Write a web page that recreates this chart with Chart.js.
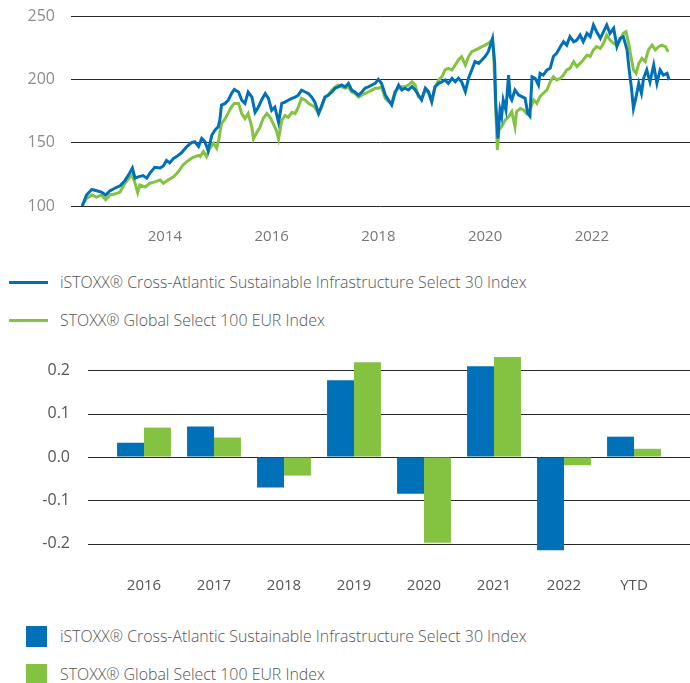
<!DOCTYPE html>
<html>
<head>
<meta charset="utf-8">
<script src="https://cdn.jsdelivr.net/npm/chart.js@4"></script>
<style>
  body { margin: 0; width: 690px; height: 683px; background: #fff; position: relative; overflow: hidden; font-family: "Open Sans", sans-serif; }
  #lineWrap { position: absolute; left: 0; top: 0; width: 690px; height: 255px; }
  #barWrap { position: absolute; left: 0; top: 340px; width: 690px; height: 265px; }
  canvas { display: block; }
  .item { position: absolute; left: 0; height: 24px; display: flex; align-items: center; font-size: 15.9px; font-weight: 300; color: #555; white-space: nowrap; }
  .line { display: inline-block; width: 39px; height: 3px; margin-left: 9px; margin-right: 12px; }
  .box { display: inline-block; width: 21px; height: 21px; margin-left: 26px; margin-right: 13px; }
</style>
</head>
<body>
<div id="lineWrap"><canvas id="lineChart" width="690" height="255"></canvas></div>
<div class="item" style="top:270px"><span class="line" style="background:#0070b9"></span><span id="lname1"></span></div>
<div class="item" style="top:308px"><span class="line" style="background:#84c341"></span><span id="lname2"></span></div>
<div id="barWrap"><canvas id="barChart" width="690" height="265"></canvas></div>
<div class="item" style="top:624px"><span class="box" style="background:#0070b9"></span><span id="bname1"></span></div>
<div class="item" style="top:662px"><span class="box" style="background:#84c341"></span><span id="bname2"></span></div>
<script>
const seriesNames = ['iSTOXX® Cross-Atlantic Sustainable Infrastructure Select 30 Index', 'STOXX® Global Select 100 EUR Index'];

// line chart: index levels
const lineXTicks = [2014, 2016, 2018, 2020, 2022];
const lineYTicks = [100, 150, 200, 250];

const blueYears = [
  2012.45, 2012.53, 2012.63, 2012.72, 2012.81, 2012.89, 2012.97,
  2013.06, 2013.16, 2013.25, 2013.34, 2013.39, 2013.44, 2013.5, 2013.59, 2013.66, 2013.72, 2013.81, 2013.91, 2013.97,
  2014.03, 2014.09, 2014.16, 2014.22, 2014.31, 2014.41, 2014.5, 2014.56, 2014.63, 2014.69, 2014.75, 2014.81, 2014.88, 2014.94,
  2015.0, 2015.03, 2015.06, 2015.13, 2015.19, 2015.25, 2015.3, 2015.38, 2015.44, 2015.5, 2015.56, 2015.63, 2015.69, 2015.75, 2015.81, 2015.88, 2015.94,
  2016.0, 2016.06, 2016.13, 2016.19, 2016.25, 2016.31, 2016.38, 2016.44, 2016.5, 2016.56, 2016.63, 2016.69, 2016.75, 2016.81, 2016.88, 2016.94,
  2017.0, 2017.06, 2017.13, 2017.19, 2017.25, 2017.31, 2017.38, 2017.44, 2017.5, 2017.56, 2017.63, 2017.69, 2017.75, 2017.81, 2017.88, 2017.94,
  2018.0, 2018.06, 2018.13, 2018.19, 2018.25, 2018.31, 2018.38, 2018.44, 2018.5, 2018.56, 2018.63, 2018.69, 2018.75, 2018.81, 2018.88, 2018.94,
  2019.0, 2019.06, 2019.13, 2019.19, 2019.25, 2019.31, 2019.38, 2019.44, 2019.5, 2019.56, 2019.63, 2019.69, 2019.75, 2019.81, 2019.88, 2019.94,
  2020.0, 2020.06, 2020.09, 2020.14, 2020.18, 2020.2, 2020.24, 2020.28, 2020.31, 2020.34, 2020.39, 2020.44, 2020.47, 2020.5, 2020.56, 2020.63, 2020.69, 2020.75, 2020.8, 2020.84, 2020.88, 2020.94,
  2021.0, 2021.03, 2021.09, 2021.16, 2021.22, 2021.28, 2021.34, 2021.41, 2021.47, 2021.53, 2021.59, 2021.66, 2021.72, 2021.78, 2021.84, 2021.91, 2021.97,
  2022.03, 2022.09, 2022.16, 2022.22, 2022.28, 2022.34, 2022.41, 2022.47, 2022.53, 2022.59, 2022.66, 2022.7, 2022.74, 2022.78, 2022.83, 2022.88, 2022.93, 2022.97,
  2023.03, 2023.09, 2023.16, 2023.22, 2023.28, 2023.34, 2023.41, 2023.45
];
const blueValues = [
  100, 108.7, 113, 112, 111, 108.7, 112,
  114, 116, 120, 126, 130, 122, 123, 124, 122, 126, 130.5, 130, 131.6,
  136, 134, 137.6, 139, 142, 147, 150, 150.8, 147, 153.4, 150.8, 143.7, 156, 160,
  162.6, 168, 179.7, 181, 183.7, 189, 192, 190, 183.5, 181, 190, 186, 174, 178, 183.5, 188.8, 185,
  175.5, 178, 166, 181, 182, 183.5, 185, 186, 187.5, 191.5, 190, 188.8, 186, 182, 173, 179.5,
  186, 187.5, 190, 193, 194, 195.5, 194, 196.8, 191.5, 190, 187.5, 190, 193, 194, 195.5, 196.8,
  200, 196.8, 187.6, 183.7, 179.7, 189, 195.5, 191.6, 193, 191.6, 194.2, 191.6, 187.6, 183.7, 193, 190.3,
  182.4, 194.2, 196.8, 198, 199.5, 196.8, 200.8, 198, 200.8, 198, 190.3, 200.8, 207.4, 214, 212.6, 215.3,
  217.9, 221.8, 225.8, 232.4, 212.6, 181, 153.4, 175.8, 170.5, 183.7, 175.8, 203.4, 186.3, 183.7, 191.6, 187.6, 186.3, 185, 173, 171, 202, 200.8,
  195.5, 204.7, 203.4, 207.4, 208.7, 218, 220.5, 225.8, 229.7, 227, 233.7, 229.7, 231, 235, 229.7, 236.3, 233.7,
  242.9, 237.6, 232.4, 237.6, 242.9, 236.3, 240.3, 225.8, 232.4, 233.7, 223.2, 207.4, 194.2, 177, 186.3, 196.8, 189, 200.8,
  207.4, 198, 211.3, 196.8, 207.4, 203.4, 204.7, 199.5
];

const greenYears = [
  2012.45, 2012.53, 2012.63, 2012.72, 2012.81, 2012.89, 2012.97,
  2013.06, 2013.16, 2013.25, 2013.34, 2013.39, 2013.44, 2013.49, 2013.53, 2013.63, 2013.72, 2013.81, 2013.91, 2013.97,
  2014.06, 2014.16, 2014.25, 2014.34, 2014.44, 2014.53, 2014.63, 2014.66, 2014.72, 2014.78, 2014.84, 2014.91, 2014.97,
  2015.01, 2015.06, 2015.13, 2015.19, 2015.25, 2015.3, 2015.38, 2015.44, 2015.5, 2015.56, 2015.63, 2015.66, 2015.72, 2015.78, 2015.84, 2015.91, 2015.97,
  2016.03, 2016.09, 2016.13, 2016.19, 2016.25, 2016.31, 2016.38, 2016.44, 2016.5, 2016.56, 2016.63, 2016.69, 2016.75, 2016.81, 2016.88, 2016.94,
  2017.0, 2017.06, 2017.13, 2017.19, 2017.25, 2017.31, 2017.38, 2017.44, 2017.5, 2017.56, 2017.63, 2017.69, 2017.75, 2017.81, 2017.88, 2017.94,
  2018.0, 2018.06, 2018.13, 2018.19, 2018.25, 2018.31, 2018.38, 2018.44, 2018.5, 2018.56, 2018.63, 2018.69, 2018.75, 2018.81, 2018.88, 2018.94,
  2019.0, 2019.06, 2019.13, 2019.19, 2019.25, 2019.31, 2019.38, 2019.44, 2019.5, 2019.56, 2019.63, 2019.69, 2019.75, 2019.81, 2019.88, 2019.94,
  2020.0, 2020.06, 2020.13, 2020.16, 2020.19, 2020.23, 2020.26, 2020.31, 2020.38, 2020.44, 2020.5, 2020.56, 2020.59, 2020.66, 2020.72, 2020.78, 2020.84, 2020.91, 2020.97,
  2021.03, 2021.09, 2021.16, 2021.22, 2021.28, 2021.34, 2021.41, 2021.47, 2021.53, 2021.59, 2021.66, 2021.72, 2021.78, 2021.84, 2021.91, 2021.97,
  2022.03, 2022.09, 2022.16, 2022.22, 2022.28, 2022.34, 2022.41, 2022.47, 2022.53, 2022.59, 2022.64, 2022.69, 2022.74, 2022.78, 2022.83, 2022.88, 2022.94,
  2023.0, 2023.06, 2023.13, 2023.19, 2023.25, 2023.31, 2023.38, 2023.43
];
const greenValues = [
  100, 106, 108.7, 107, 108.7, 105, 108.7,
  109.5, 111, 118, 122.6, 124.5, 118, 110.5, 116.6, 115, 118, 119, 120.6, 118,
  120.6, 123, 127, 132.4, 136, 138.5, 140, 139, 143, 139, 145.6, 149.5, 145.6,
  152.6, 165, 169, 173.7, 178.4, 181, 181, 173, 169, 173, 162, 153, 158, 162, 169, 173, 170,
  165, 159.6, 153, 167.5, 171.5, 170, 174, 173, 178, 185, 183.5, 181, 179.5, 178, 173, 178,
  186, 187.5, 191.5, 194, 195.5, 194, 193, 194, 190, 188.8, 186, 187.5, 188.8, 190, 191.5, 193,
  193, 194, 185, 182.4, 181, 190.3, 193, 194.2, 194.2, 195.5, 198, 195.5, 186.3, 185, 191.6, 189,
  182.4, 193, 199.5, 202, 207.4, 208.7, 207.4, 211.3, 215.3, 217.9, 211.3, 217.9, 221.8, 223, 224.5, 225.8,
  227, 228.4, 231, 220.5, 186.3, 144.2, 160, 162.6, 168, 170.5, 174.5, 162.6, 174.5, 177, 175.8, 173, 175.8, 183.7, 181,
  186.3, 189, 191.6, 198, 202, 199.5, 200.8, 203.4, 207.4, 208.7, 214, 210, 212.6, 215.3, 219.2, 218,
  223.2, 225.8, 224.5, 228.4, 235, 231, 228.4, 227, 231, 236.3, 237.6, 228.4, 216.6, 207.4, 204.7, 212.6, 216.6,
  214, 223.2, 227, 223.2, 225.8, 227, 225.8, 221.8
];

// bar chart: calendar-year returns
const barCategories = ['2016', '2017', '2018', '2019', '2020', '2021', '2022', 'YTD'];
const blueReturns = [0.033, 0.0705, -0.0705, 0.1775, -0.085, 0.21, -0.2155, 0.047];
const greenReturns = [0.068, 0.045, -0.043, 0.219, -0.198, 0.231, -0.019, 0.019];
const barYTicks = [-0.2, -0.1, 0, 0.1, 0.2];

const BLUE = '#0070b9';
const GREEN = '#84c341';

document.getElementById('lname1').textContent = seriesNames[0];
document.getElementById('lname2').textContent = seriesNames[1];
document.getElementById('bname1').textContent = seriesNames[0];
document.getElementById('bname2').textContent = seriesNames[1];

Chart.defaults.font.family = '"Open Sans", sans-serif';
Chart.defaults.animation = false;

const toPoints = (xs, ys) => xs.map((x, i) => ({ x: x, y: ys[i] }));

new Chart(document.getElementById('lineChart').getContext('2d'), {
  type: 'line',
  data: {
    datasets: [
      { label: seriesNames[0], data: toPoints(blueYears, blueValues), borderColor: BLUE, borderWidth: 3, pointRadius: 0, tension: 0 },
      { label: seriesNames[1], data: toPoints(greenYears, greenValues), borderColor: GREEN, borderWidth: 3, pointRadius: 0, tension: 0 }
    ]
  },
  options: {
    responsive: false,
    layout: { padding: { top: 16, right: 0 } },
    plugins: { legend: { display: false }, tooltip: { enabled: false } },
    scales: {
      x: {
        type: 'linear',
        min: 2012.24,
        max: 2023.84,
        afterBuildTicks: s => { s.ticks = lineXTicks.map(v => ({ value: v })); },
        afterFit: s => { s.height = 49; },
        grid: { display: false, drawTicks: false },
        border: { display: false },
        ticks: { padding: 22, color: '#777', font: { size: 15 }, maxRotation: 0, callback: v => String(v) }
      },
      y: {
        min: 100,
        max: 250,
        afterBuildTicks: s => { s.ticks = lineYTicks.map(v => ({ value: v })); },
        afterFit: s => { s.width = 71; },
        // invisible tick marks push the labels away from the plot
        grid: { color: '#2a2a2a', lineWidth: 1, drawTicks: true, tickLength: 16, tickColor: 'rgba(0,0,0,0)' },
        border: { display: false },
        ticks: { padding: 0, color: '#8c8c8c', font: { size: 16 } }
      }
    }
  }
});

// horizontal grid lines of the bar chart run wider than the category area
const wideGrid = {
  id: 'wideGrid',
  beforeDatasetsDraw(chart) {
    const ctx = chart.ctx;
    const y = chart.scales.y;
    ctx.save();
    ctx.strokeStyle = '#2a2a2a';
    ctx.lineWidth = 1;
    barYTicks.forEach(v => {
      const py = Math.round(y.getPixelForValue(v)) + 0.5;
      ctx.beginPath();
      ctx.moveTo(88, py);
      ctx.lineTo(690, py);
      ctx.stroke();
    });
    ctx.restore();
  }
};

new Chart(document.getElementById('barChart').getContext('2d'), {
  type: 'bar',
  data: {
    labels: barCategories,
    datasets: [
      { label: seriesNames[0], data: blueReturns, backgroundColor: BLUE },
      { label: seriesNames[1], data: greenReturns, backgroundColor: GREEN }
    ]
  },
  options: {
    responsive: false,
    categoryPercentage: 0.77,
    barPercentage: 1,
    layout: { padding: { top: 11, right: 21 } },
    plugins: { legend: { display: false }, tooltip: { enabled: false } },
    scales: {
      x: {
        afterFit: s => { s.height = 42; },
        grid: { display: false, drawTicks: false },
        border: { display: false },
        ticks: { padding: 14, color: '#555', font: { size: 15 } }
      },
      y: {
        min: -0.245,
        max: 0.245,
        afterBuildTicks: s => { s.ticks = barYTicks.map(v => ({ value: v })); },
        afterFit: s => { s.width = 109; },
        grid: { display: true, color: 'rgba(0,0,0,0)', drawTicks: true, tickLength: 39, tickColor: 'rgba(0,0,0,0)' },
        border: { display: false },
        ticks: { padding: 0, color: '#555', font: { size: 16 }, callback: v => v.toFixed(1) }
      }
    }
  },
  plugins: [wideGrid]
});
</script>
</body>
</html>
